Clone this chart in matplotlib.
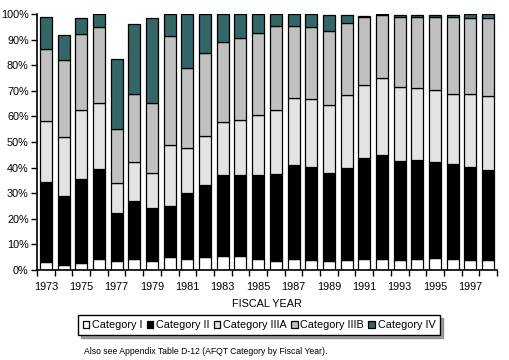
import matplotlib.pyplot as plt
from matplotlib.ticker import PercentFormatter, FixedLocator
import numpy as np

plt.rcParams['font.family'] = ['Liberation Sans', 'DejaVu Sans']

years = list(range(1973, 1999))
# cumulative tops (percent)
top_i = [3.3, 2.0, 2.9, 4.4, 3.6, 4.4, 3.6, 4.9, 4.2, 4.9, 5.6, 5.6, 4.4,
         3.6, 4.4, 4.0, 3.6, 4.0, 4.4, 4.4, 4.0, 4.4, 4.8, 4.4, 4.0, 4.0]
top_ii = [34.4, 28.9, 35.5, 39.5, 22.3, 27.0, 24.1, 25.0, 30.1, 33.2, 37.1, 37.1, 37.1,
          37.5, 41.0, 40.2, 37.9, 39.8, 43.8, 44.9, 42.6, 43.0, 42.2, 41.4, 40.2, 39.1]
top_iiia = [58.1, 52.0, 62.4, 65.1, 33.9, 42.1, 37.8, 48.7, 47.7, 52.3, 57.7, 58.5, 60.4,
            62.4, 67.1, 66.7, 64.3, 68.2, 72.1, 74.9, 71.4, 71.0, 70.2, 68.6, 68.6, 67.8]
top_iiib = [86.2, 81.9, 92.1, 94.8, 55.0, 68.6, 65.1, 91.4, 78.8, 84.6, 88.9, 90.5, 92.4,
            95.2, 95.2, 94.8, 93.2, 96.4, 98.7, 99.5, 98.9, 98.9, 98.9, 98.7, 98.4, 98.4]
top_iv = [98.7, 91.8, 98.3, 100, 82.3, 96.0, 98.3, 100, 100, 100, 100, 100, 100,
          100, 100, 100, 99.5, 99.6, 99.3, 100, 99.5, 99.5, 99.5, 99.5, 100, 100]

labels = ["Category I", "Category II", "Category IIIA", "Category IIIB", "Category IV"]
colors = ["#ffffff", "#000000", "#e3e3e3", "#c0c0c0", "#336666"]

tops = np.array([top_i, top_ii, top_iiia, top_iiib, top_iv]) / 100.0
bottoms = np.vstack([np.zeros(len(years)), tops[:-1]])

fig = plt.figure(figsize=(5.1, 3.6), dpi=100)
ax = fig.add_axes([37 / 510, 90 / 360, 460 / 510, 256 / 360])

x = np.arange(len(years))
handles = []
for k in range(5):
    h = ax.bar(x, tops[k] - bottoms[k], bottom=bottoms[k], width=0.68,
               color=colors[k], edgecolor="black", linewidth=0.9, label=labels[k])
    handles.append(h)

ax.set_xlim(-0.5, len(years) - 0.5)
ax.set_ylim(0, 1)
ax.yaxis.set_major_locator(FixedLocator(np.arange(0, 1.01, 0.1)))
ax.yaxis.set_major_formatter(PercentFormatter(1.0, decimals=0))
ax.set_xticks(x[::2])
ax.set_xticklabels([str(y) for y in years[::2]])
ax.tick_params(axis="x", length=0, labelsize=7.8, pad=9)
ax.set_xticks(np.arange(-0.5, len(years)), minor=True)
ax.tick_params(axis="x", which="minor", length=4, width=1, direction="out")
ax.tick_params(axis="y", length=4, width=1, labelsize=7.8, pad=2)
for s in ["top", "right"]:
    ax.spines[s].set_visible(False)
for s in ["left", "bottom"]:
    ax.spines[s].set_linewidth(1.2)

ax.set_xlabel("FISCAL YEAR", fontsize=7.8, labelpad=5)

leg = fig.legend(handles=handles, labels=labels, loc="center", ncol=5,
                 bbox_to_anchor=(259 / 510, 1 - 325 / 360), fontsize=7.8,
                 frameon=True, fancybox=False, shadow=True, edgecolor="black",
                 handlelength=0.6, handleheight=0.6, handletextpad=0.25,
                 columnspacing=0.4, borderpad=0.45, borderaxespad=0, framealpha=1)
leg.get_frame().set_linewidth(1)

fig.text(84 / 510, 1 - 352 / 360, "Also see Appendix Table D-12 (AFQT Category by Fiscal Year).",
         fontsize=6.2, va="center", ha="left")

fig.savefig("out.png", dpi=100)
